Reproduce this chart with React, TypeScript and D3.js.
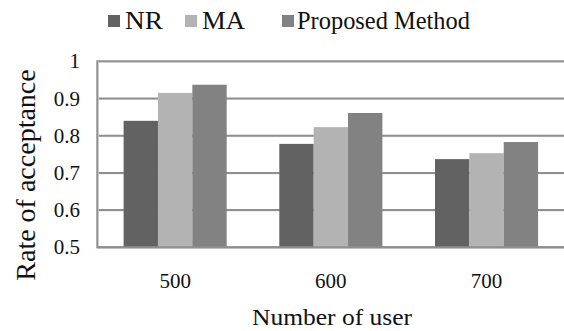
import React from "react";
import * as d3 from "d3";

const categories = ["500", "600", "700"];
const seriesNames = ["NR", "MA", "Proposed Method"];
const nrValues = [0.84, 0.778, 0.737];
const maValues = [0.915, 0.823, 0.753];
const proposedValues = [0.937, 0.861, 0.783];
const yTicks = [0.5, 0.6, 0.7, 0.8, 0.9, 1];
const seriesColors = ["#626262", "#b3b3b3", "#828282"];

const W = 564;
const H = 331;
const FONT = '"Liberation Serif", "Times New Roman", Times, serif';

export default function App() {
  const values = [nrValues, maValues, proposedValues];
  const plotLeft = 97.3;
  const plotRight = 564.4;
  const plotTop = 61.3;
  const plotBottom = 247.3;

  const y = d3.scaleLinear().domain([0.5, 1]).range([plotBottom, plotTop]);
  const x0 = d3.scaleBand().domain(categories).range([plotLeft, plotRight]).padding(0);
  const step = x0.step();
  const groupW = step * 0.662;
  const x1 = d3
    .scaleBand()
    .domain(seriesNames)
    .range([(step - groupW) / 2, (step + groupW) / 2])
    .padding(0);

  const gridColor = "#8f8f8f";
  const fmt = (v: number) => (v === 1 ? "1" : d3.format(".1f")(v));

  // legend layout
  const legendItems = [
    { name: "NR", sq: 108, tx: 125, len: 38 },
    { name: "MA", sq: 185, tx: 202, len: 43 },
    { name: "Proposed Method", sq: 282, tx: 297, len: 173 },
  ];

  const textStyle = { fontFamily: FONT };

  return (
    <svg
      width={W}
      height={H}
      style={{ position: "absolute", left: 0, top: 0, background: "#fff", fontFamily: FONT }}
    >
      <rect x={0} y={0} width={W} height={H} fill="#fff" />
      {/* gridlines */}
      {yTicks.map((t) => (
        <g key={t}>
          <line x1={plotLeft} x2={plotRight} y1={y(t) + 1} y2={y(t) + 1} stroke="#e2e2e2" strokeWidth={1} />
          <line x1={plotLeft} x2={plotRight} y1={y(t)} y2={y(t)} stroke={gridColor} strokeWidth={2} />
        </g>
      ))}
      {/* left axis */}
      <line x1={plotLeft + 1} x2={plotLeft + 1} y1={plotTop} y2={plotBottom} stroke="#e2e2e2" strokeWidth={1} />
      <line x1={plotLeft} x2={plotLeft} y1={plotTop - 1} y2={plotBottom + 1} stroke={gridColor} strokeWidth={2} />
      {/* bars */}
      {categories.map((c, ci) => (
        <g key={c} transform={`translate(${x0(c)},0)`}>
          {seriesNames.map((s, si) => {
            const v = values[si][ci];
            return (
              <rect
                key={s}
                x={x1(s)}
                y={y(v)}
                width={x1.bandwidth()}
                height={plotBottom - y(v)}
                fill={seriesColors[si]}
              />
            );
          })}
        </g>
      ))}
      {/* baseline */}
      <line x1={plotLeft} x2={plotRight} y1={plotBottom} y2={plotBottom} stroke={gridColor} strokeWidth={2} />
      {/* y tick labels */}
      {yTicks.map((t) => (
        <text key={t} x={80} y={y(t)} dy="0.34em" textAnchor="end" fontSize={21} fill="#111" style={textStyle}>
          {fmt(t)}
        </text>
      ))}
      {/* x tick labels */}
      {categories.map((c) => (
        <text
          key={c}
          x={(x0(c) as number) + step / 2}
          y={288}
          textAnchor="middle"
          fontSize={21}
          fill="#111"
          style={textStyle}
        >
          {c}
        </text>
      ))}
      {/* axis titles */}
      <text
        transform="translate(35,175) rotate(-90)"
        textAnchor="middle"
        fontSize={28}
        fill="#111"
        style={textStyle}
      >
        Rate of acceptance
      </text>
      <text
        x={252}
        y={325}
        fontSize={24}
        fill="#111"
        textLength={160}
        lengthAdjust="spacingAndGlyphs"
        style={textStyle}
      >
        Number of user
      </text>
      {/* legend */}
      {legendItems.map((it, i) => (
        <g key={it.name}>
          <rect x={it.sq} y={15} width={12} height={12} fill={seriesColors[i]} />
          <text
            x={it.tx}
            y={29}
            fontSize={25}
            fill="#111"
            textLength={it.len}
            lengthAdjust="spacingAndGlyphs"
            style={textStyle}
          >
            {it.name}
          </text>
        </g>
      ))}
    </svg>
  );
}
